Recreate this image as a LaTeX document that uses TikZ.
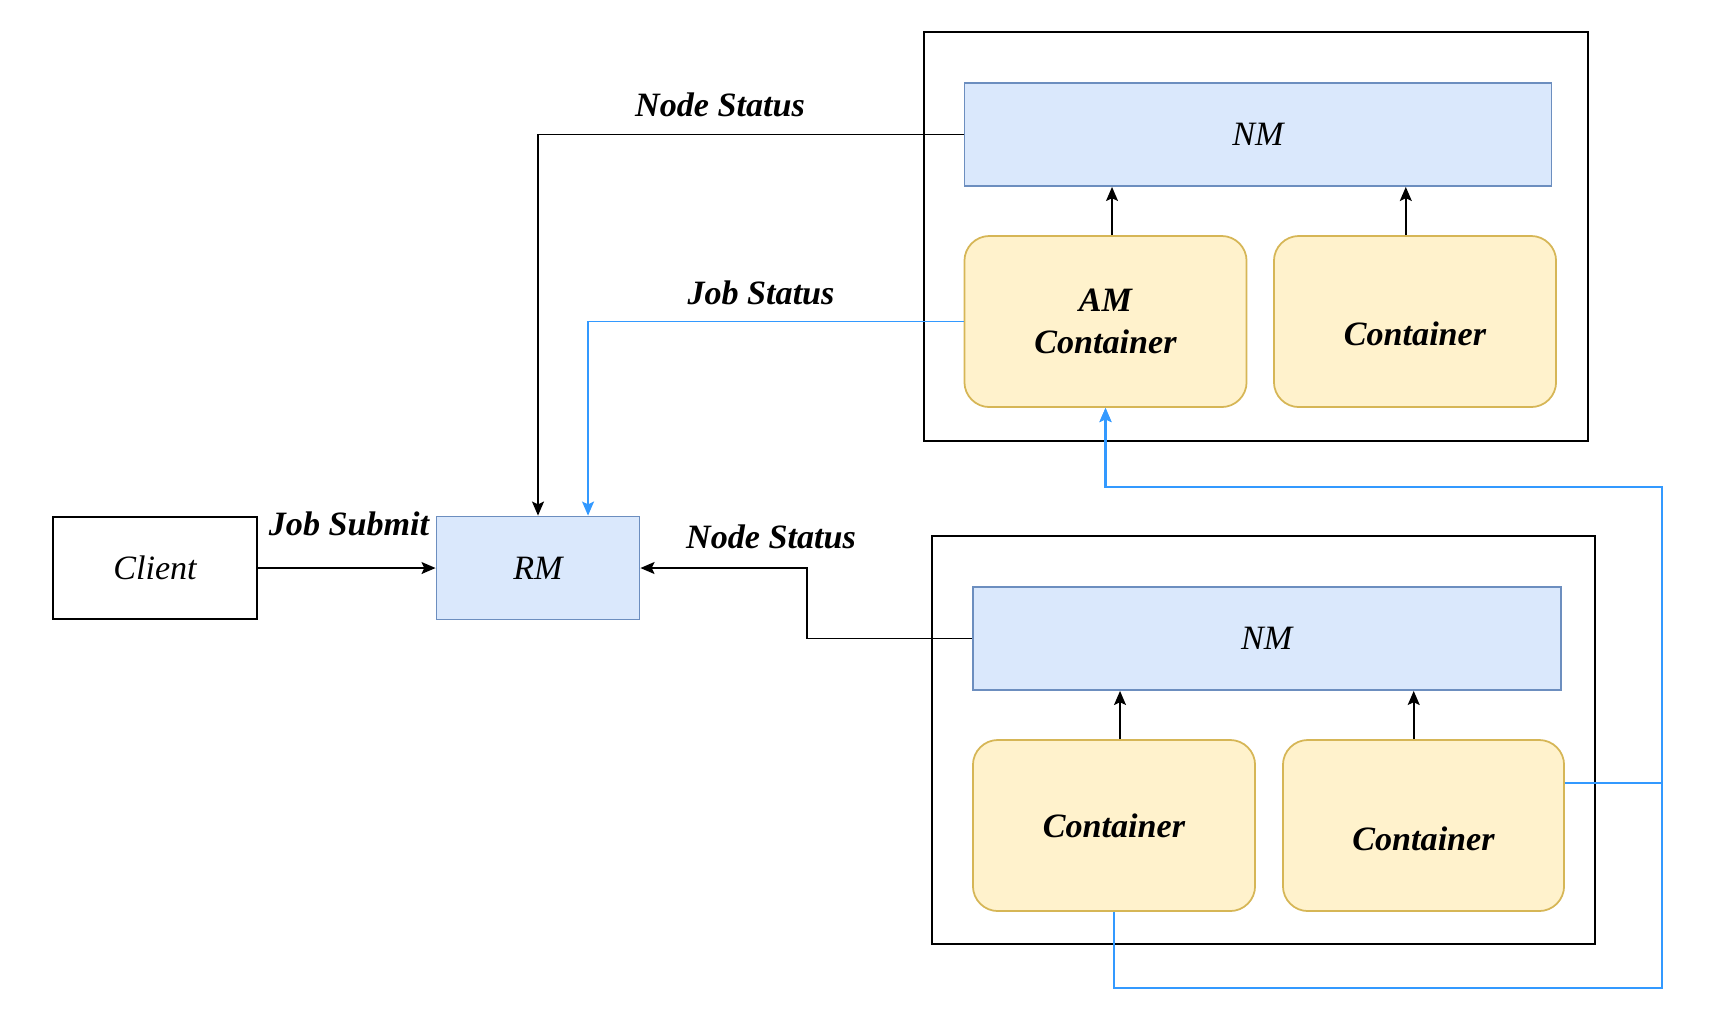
\documentclass[tikz,border=0pt]{standalone}
\usepackage{fontspec}
\setmainfont{Liberation Serif}
\usetikzlibrary{arrows.meta}

\definecolor{nmfill}{HTML}{DAE8FC}
\definecolor{nmline}{HTML}{6C8EBF}
\definecolor{ctfill}{HTML}{FFF2CC}
\definecolor{ctline}{HTML}{D6B656}
\definecolor{msgblue}{HTML}{3399FF}

\begin{document}
\begin{tikzpicture}[x=0.01cm,y=-0.01cm,line width=0.5pt,
  font=\fontsize{9.7}{12}\selectfont\itshape,
  >={Stealth[length=4pt,width=3.4pt,inset=0.8pt]},
  plain/.style={draw,inner sep=0pt,minimum width=2.04cm,minimum height=1.02cm},
  mgr/.style={draw=nmline,fill=nmfill,inner sep=0pt,minimum width=#1,minimum height=1.03cm},
  cont/.style={draw=ctline,fill=ctfill,rounded corners=0.25cm,inner sep=0pt,
    minimum width=2.82cm,minimum height=1.71cm,align=center,
    font=\fontsize{9.7}{12}\selectfont\bfseries\itshape},
  hostbox/.style={draw,line width=0.55pt,inner sep=0pt,minimum width=6.64cm,minimum height=4.09cm},
  lbl/.style={font=\fontsize{9.7}{12}\selectfont\bfseries\itshape}]

\useasboundingbox (0,0) rectangle (1716,1032);

% hosts
\node[hostbox] (host1) at (1256,236.5) {};
\node[hostbox,minimum width=6.625cm,minimum height=4.07cm] (host2) at (1263.3,740) {};

\node[plain] (client) at (155,568) {Client};
\node[mgr=2.03cm] (rm) at (538,568) {RM};

\node[mgr=5.865cm] (nm1) at (1258,134.5) {NM};
\node[cont] (am) at (1105.5,321.5) {AM\\Container};
\node[cont,label={[lbl,yshift=-0.12cm]center:Container}] (c1) at (1415,321.5) {};

\node[mgr=5.88cm] (nm2) at (1266.8,638.5) {NM};
\node[cont] (c2) at (1114,825.5) {Container};
\node[cont,minimum width=2.81cm,label={[lbl,yshift=-0.13cm]center:Container}] (c3) at (1423.5,825.5) {};

% containers report to their NM
\draw[->] ([xshift=0.065cm]am.north) -- ([xshift=0.065cm]am.north |- nm1.south);
\draw[->] ([xshift=-0.092cm]c1.north) -- ([xshift=-0.092cm]c1.north |- nm1.south);
\draw[->] ([xshift=0.06cm]c2.north) -- ([xshift=0.06cm]c2.north |- nm2.south);
\draw[->] ([xshift=-0.098cm]c3.north) -- ([xshift=-0.098cm]c3.north |- nm2.south);

% messages to the RM
\draw[->] (client) -- (rm) node[lbl] (submit) at (349,524) {Job Submit};
\draw[->] (nm1.west) -| (rm.north) node[lbl] (ns1) at (720,105) {Node Status};
\draw[->,msgblue] (am.west) -| ([xshift=0.5cm]rm.north) node[lbl,black] (js) at (761,293) {Job Status};
\draw[->] (nm2.west) -- ++(-165,0) |- (rm.east) node[lbl] (ns2) at (771,537) {Node Status};

% containers to the AM
\coordinate (back) at (1662,487);
\draw[->,msgblue] ([yshift=0.425cm]c3.east) -| (back) -| (am.south);
\draw[->,msgblue,line width=0.65pt] (c2.south) -- ++(0,76) -| (back) -| (am.south);

\end{tikzpicture}
\end{document}
